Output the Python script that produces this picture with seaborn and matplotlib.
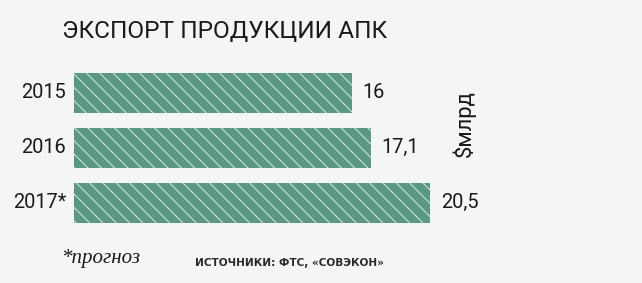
import matplotlib
matplotlib.use("Agg")
import matplotlib.pyplot as plt
import seaborn as sns
import pandas as pd

years = ["2015", "2016", "2017*"]
values = [16.0, 17.1, 20.5]
value_labels = ["16", "17,1", "20,5"]
title = "ЭКСПОРТ ПРОДУКЦИИ АПК"
unit = "$млрд"
footnote = "*прогноз"
source = "ИСТОЧНИКИ: ФТС, «СОВЭКОН»"

DPI = 120
W, H = 642, 283
BG = "#f4f6f5"
BAR = "#5b9883"

def pt(px):
    return px * 72.0 / DPI

sns.set_theme(style="white")
plt.rcParams["font.family"] = ["Roboto", "DejaVu Sans"]
plt.rcParams["hatch.linewidth"] = 0.6
plt.rcParams["hatch.color"] = "#d6e8e0"

fig = plt.figure(figsize=(W / DPI, H / DPI), dpi=DPI, facecolor=BG)
left = 74 / W
ax = fig.add_axes([left, 0, 1 - left, 1])
ax.set_facecolor("none")

df = pd.DataFrame({"year": years, "value": values})
sns.barplot(data=df, x="value", y="year", orient="h", color=BAR,
            width=40 / 55, saturation=1, ax=ax, edgecolor="#d6e8e0",
            linewidth=0, hatch="\\\\\\")

px_per_unit = 17.35
ax.set_xlim(0, (W - 74) / px_per_unit)
ax.set_ylim((H - 92.5) / 55, -92.5 / 55)
for s in ax.spines.values():
    s.set_visible(False)
ax.set_xticks([])
ax.set_yticks([])
ax.set_xlabel("")
ax.set_ylabel("")

for i, (v, lab) in enumerate(zip(values, value_labels)):
    ax.annotate(lab, xy=(v, i), xytext=(pt(11), 0), textcoords="offset points",
                ha="left", va="center", fontsize=pt(20), color="#1a1a1a")
    ax.annotate(years[i], xy=(0, i), xytext=(pt(-8), 0), textcoords="offset points",
                ha="right", va="center", fontsize=pt(20), color="#1a1a1a")

fig.text(62 / W, 1 - 31 / H, title, ha="left", va="center",
         fontsize=pt(24.5), color="#1a1a1a")
fig.text(464 / W, 1 - 124 / H, unit, ha="center", va="center", rotation=90,
         fontsize=pt(22), color="#1a1a1a")
fig.text(62 / W, 1 - 258 / H, footnote, ha="left", va="center",
         fontsize=pt(21), fontstyle="italic", color="#1a1a1a",
         family=["Liberation Serif", "DejaVu Serif"])
fig.text(195 / W, 1 - 263 / H, source, ha="left", va="center",
         fontsize=pt(10.5), fontweight="bold", color="#2a2a2a",
         family=["DejaVu Sans"])

fig.savefig("out.png", dpi=DPI, facecolor=BG)
